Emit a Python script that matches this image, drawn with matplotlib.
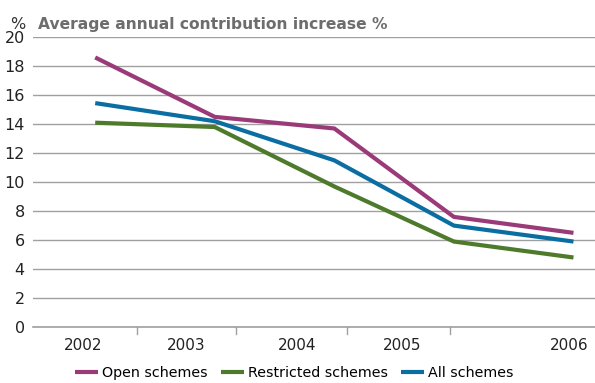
import matplotlib
matplotlib.use("Agg")
import matplotlib.pyplot as plt

# contribution increase data, % per year
years = ["2002", "2003", "2004", "2005", "2006"]
open_schemes = [18.6, 14.5, 13.7, 7.6, 6.5]
restricted_schemes = [14.1, 13.8, 9.7, 5.9, 4.8]
all_schemes = [15.45, 14.2, 11.5, 7.0, 5.9]

plt.rcParams['font.family'] = ['DejaVu Sans']

fig = plt.figure(figsize=(5.95, 3.83), dpi=100)
ax = fig.add_axes([0.0555, 0.146, 0.9445, 0.757])

x = list(range(len(years)))
ax.plot(x, open_schemes, color="#9b3a78", lw=3, label="Open schemes", solid_capstyle="butt")
ax.plot(x, restricted_schemes, color="#4e7a2c", lw=3, label="Restricted schemes", solid_capstyle="butt")
ax.plot(x, all_schemes, color="#0b6ea3", lw=3, label="All schemes", solid_capstyle="butt")

ax.set_xlim(-0.52, 4.18)
ax.set_ylim(0, 20)
ax.set_yticks(range(0, 21, 2))
ax.yaxis.grid(True, color="#a0a0a0", lw=1)
ax.set_axisbelow(True)
for s in ax.spines.values():
    s.set_visible(False)
ax.axhline(0, color="#a0a0a0", lw=1.2, clip_on=False, zorder=0)
ax.tick_params(axis="y", length=0, labelsize=11.5, pad=6, labelcolor="#222222")

# year labels sit between the separator ticks
ax.set_xticks([-0.1, 0.76, 1.69, 2.57, 3.96])
ax.set_xticklabels(years)
ax.tick_params(axis="x", length=0, labelsize=11, pad=8, labelcolor="#222222")
for xm in [0.35, 1.18, 2.11, 2.97]:
    ax.plot([xm, xm], [0, -0.5], color="#a0a0a0", lw=1, clip_on=False)

fig.text(0.017, 0.925, "%", fontsize=11.5, color="#333333")
fig.text(0.064, 0.925, "Average annual contribution increase %", fontsize=11.2,
         color="#6d6d6d", fontweight="bold")

ax.legend(loc="upper center", bbox_to_anchor=(0.465, -0.09), ncol=3, frameon=False,
          fontsize=10.3, handlelength=1.6, handletextpad=0.3, columnspacing=0.9)

fig.savefig("out.png", dpi=100)
